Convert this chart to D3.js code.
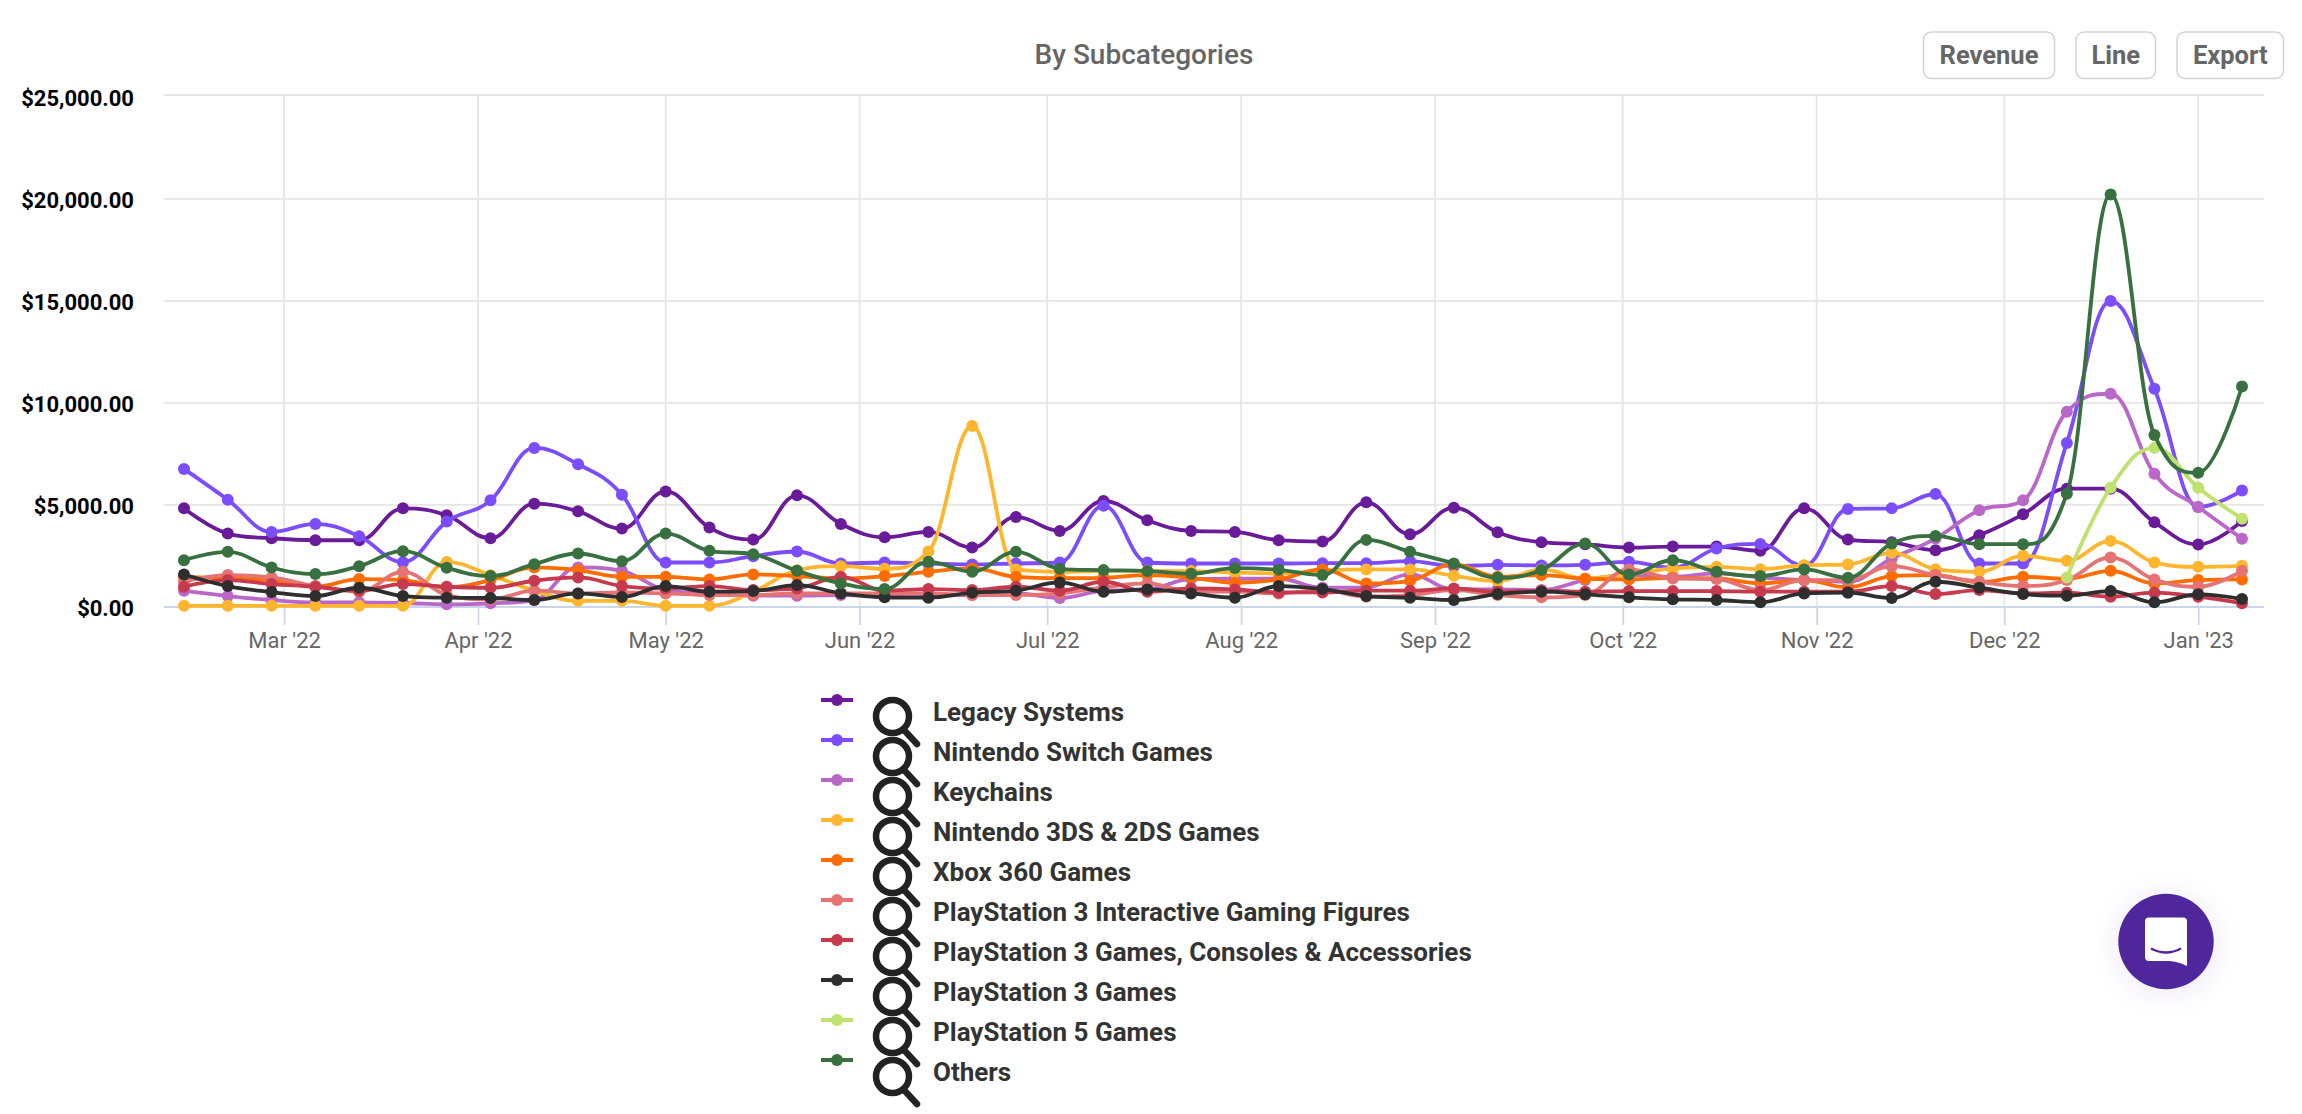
<!DOCTYPE html>
<html>
  <head>
    <script src="https://cdnjs.cloudflare.com/ajax/libs/d3/7.8.5/d3.min.js"></script>
    <style type="text/css">
      body {
        margin: 0;
        padding: 0;
        background: #fff;
        overflow: hidden;
      }
      text {
        font-family: Roboto, sans-serif;
      }
      .y-axis text {
        font-size: 22px;
        font-weight: 700;
        fill: #000;
      }
      .x-axis text {
        font-size: 22px;
        fill: #666;
      }
      .legend-label {
        font-size: 26px;
        font-weight: 700;
        fill: #333;
      }
      .title {
        font-size: 28px;
        font-weight: 500;
        fill: #666;
      }
      .button-label {
        font-size: 25.5px;
        font-weight: 700;
        fill: #666;
      }
    </style>
  </head>
  <body>
    <svg id="chart" width="2302" height="1114"></svg>
    <script type="text/javascript">
    const yTicks = [0, 5000, 10000, 15000, 20000, 25000];
    const buttonLabels = ['Revenue', 'Line', 'Export'];

    const legacySystems = [4835, 3598, 3370, 3272, 3272, 4835, 4493, 3370, 5063, 4689, 3842, 5665, 3891, 3305, 5470, 4070, 3419, 3679, 2914, 4412, 3728, 5193, 4249, 3728, 3679, 3272, 3207, 5128, 3565, 4868, 3663, 3175, 3077, 2914, 2963, 2963, 2751, 4835, 3305, 3175, 2784, 3516, 4542, 5796, 5796, 4151, 3061, 4216];
    const switchGames = [6767, 5258, 3679, 4070, 3468, 2198, 4184, 5226, 7795, 6993, 5503, 2181, 2181, 2490, 2719, 2132, 2181, 2132, 2083, 2132, 2181, 4965, 2181, 2132, 2132, 2132, 2149, 2149, 2246, 2002, 2067, 2035, 2067, 2214, 1921, 2865, 3093, 2019, 4803, 4835, 5535, 2132, 2132, 8040, 14990, 10690, 4900, 5713];
    const keychains = [798, 537, 342, 228, 228, 195, 130, 179, 342, 1937, 1775, 830, 670, 553, 553, 586, 553, 586, 586, 667, 440, 800, 860, 1367, 1384, 1384, 944, 960, 1595, 860, 860, 830, 1319, 1563, 1481, 1644, 1449, 1319, 1237, 2377, 3354, 4738, 5226, 9570, 10450, 6528, 4900, 3350];
    const ds3Games = [60, 60, 60, 60, 60, 60, 2200, 1560, 800, 300, 300, 60, 60, 750, 1800, 2000, 1870, 2719, 8870, 1840, 1725, 1775, 1775, 1758, 1693, 1644, 1775, 1840, 1840, 1530, 1270, 1840, 1400, 1610, 1888, 1970, 1855, 2050, 2083, 2653, 1855, 1725, 2507, 2262, 3240, 2181, 1970, 2018];
    const xbox360Games = [1480, 1400, 1319, 993, 1367, 1319, 960, 1319, 1937, 1807, 1481, 1481, 1351, 1595, 1514, 1400, 1514, 1725, 1888, 1481, 1416, 1432, 1563, 1432, 1188, 1351, 1840, 1156, 1286, 2100, 1481, 1563, 1384, 1351, 1432, 1400, 1156, 1319, 960, 1514, 1563, 1204, 1481, 1384, 1774, 1156, 1319, 1351];
    const ps3Figures = [1237, 1563, 1449, 1026, 750, 1726, 586, 374, 798, 667, 716, 667, 586, 586, 667, 667, 667, 667, 586, 586, 667, 960, 1156, 750, 750, 667, 830, 505, 586, 830, 586, 472, 586, 1840, 1400, 1367, 830, 1319, 1319, 2002, 1563, 1237, 1026, 1319, 2426, 1351, 993, 1775];
    const ps3Consoles = [993, 1319, 1123, 993, 798, 1123, 993, 944, 1286, 1449, 1026, 912, 1026, 830, 912, 1481, 798, 879, 830, 993, 798, 1237, 749, 912, 863, 716, 716, 798, 798, 912, 749, 798, 749, 781, 781, 781, 749, 749, 749, 1026, 635, 830, 667, 700, 505, 700, 505, 179];
    const ps3Games = [1595, 1026, 733, 537, 944, 537, 456, 440, 342, 667, 488, 1026, 749, 781, 1074, 667, 472, 456, 700, 798, 1205, 749, 863, 667, 456, 1026, 879, 537, 456, 342, 635, 749, 619, 472, 374, 342, 228, 667, 700, 440, 1237, 944, 635, 553, 781, 228, 619, 391];
    const ps5Games = [null, null, null, null, null, null, null, null, null, null, null, null, null, null, null, null, null, null, null, null, null, null, null, null, null, null, null, null, null, null, null, null, null, null, null, null, null, null, null, null, null, null, null, 1449, 5843, 7797, 5843, 4330];
    const others = [2295, 2702, 1937, 1612, 2002, 2735, 1921, 1514, 2100, 2621, 2247, 3598, 2751, 2588, 1775, 1156, 879, 2214, 1726, 2702, 1872, 1807, 1758, 1628, 1905, 1823, 1563, 3289, 2702, 2133, 1433, 1807, 3110, 1595, 2295, 1726, 1514, 1840, 1433, 3110, 3484, 3077, 3077, 5550, 20216, 8432, 6576, 10808];

    const seriesNames = ['Legacy Systems', 'Nintendo Switch Games', 'Keychains', 'Nintendo 3DS & 2DS Games', 'Xbox 360 Games', 'PlayStation 3 Interactive Gaming Figures', 'PlayStation 3 Games, Consoles & Accessories', 'PlayStation 3 Games', 'PlayStation 5 Games', 'Others'];
    const seriesValues = [legacySystems, switchGames, keychains, ds3Games, xbox360Games, ps3Figures, ps3Consoles, ps3Games, ps5Games, others];
    const seriesColors = ['#6a1b9a', '#7c4dff', '#ba68c8', '#ffb62e', '#ff6d00', '#e57373', '#c73a4e', '#2e2e2e', '#bfe26f', '#38703f'];

    // one point a week, from the first to the last sunday on the chart
    const weeks = d3.utcWeek.range(new Date(Date.UTC(2022, 1, 13)), new Date(Date.UTC(2023, 0, 9)));
    const months = d3.utcMonth.range(new Date(Date.UTC(2022, 2, 1)), new Date(Date.UTC(2023, 0, 2)));

    const plot = {left: 163.5, right: 2264, top: 95, bottom: 607};

    const x = d3.scaleUtc().domain([weeks[0], weeks[weeks.length - 1]]).range([184, 2242]);
    const y = d3.scaleLinear().domain([0, 25000]).range([plot.bottom, 96.8]);

    // same smoothing as the spline the original chart uses, flat at local extremes
    function smoothSpline(context) {
      let pts;
      return {
        lineStart() { pts = []; },
        lineEnd() {
          const conts = pts.map((p, i) => splineControls(pts[i - 1], p, pts[i + 1]));
          pts.forEach((p, i) => {
            if (i === 0) {
              context.moveTo(p[0], p[1]);
            } else {
              const a = conts[i - 1].right, b = conts[i].left;
              context.bezierCurveTo(a[0], a[1], b[0], b[1], p[0], p[1]);
            }
          });
        },
        point(px, py) { pts.push([px, py]); },
        areaStart() {},
        areaEnd() {}
      };
    }

    function splineControls(last, p, next) {
      if (!last || !next) return {left: p, right: p};
      const s = 1.5, d = s + 1;
      const lx = (s * p[0] + last[0]) / d, rx = (s * p[0] + next[0]) / d;
      let ly = (s * p[1] + last[1]) / d, ry = (s * p[1] + next[1]) / d;
      // both control points on a straight line through the point
      const correction = (ry - ly) * (rx - p[0]) / (rx - lx) + p[1] - ry;
      ly += correction;
      ry += correction;
      if (ly > p[1] && ly > last[1]) {
        ly = Math.max(p[1], last[1]);
        ry = 2 * p[1] - ly;
      } else if (ly < p[1] && ly < last[1]) {
        ly = Math.min(p[1], last[1]);
        ry = 2 * p[1] - ly;
      }
      if (ry > p[1] && ry > next[1]) {
        ry = Math.max(p[1], next[1]);
        ly = 2 * p[1] - ry;
      } else if (ry < p[1] && ry < next[1]) {
        ry = Math.min(p[1], next[1]);
        ly = 2 * p[1] - ry;
      }
      return {left: [lx, ly], right: [rx, ry]};
    }

    const svg = d3.select('#chart');

    svg.append('text')
      .attr('class', 'title')
      .attr('x', 1144)
      .attr('y', 64)
      .attr('text-anchor', 'middle')
      .text('By Subcategories');

    /* buttons */
    const buttonBoxes = [[1923.5, 131], [2076, 79.5], [2177, 106.5]];
    buttonLabels.forEach((label, i) => {
      const g = svg.append('g').attr('transform', `translate(${buttonBoxes[i][0]},32)`);
      g.append('rect')
        .attr('width', buttonBoxes[i][1])
        .attr('height', 46.5)
        .attr('rx', 8)
        .attr('fill', '#fff')
        .attr('stroke', '#d4d4d4')
        .attr('stroke-width', 1.5);
      g.append('text')
        .attr('class', 'button-label')
        .attr('x', buttonBoxes[i][1] / 2)
        .attr('y', 31.5)
        .attr('text-anchor', 'middle')
        .text(label);
    });

    /* grid, the top line sits a little above its place on the scale */
    svg.append('g').selectAll('line')
      .data(yTicks.slice(1))
      .join('line')
      .attr('x1', plot.left)
      .attr('x2', plot.right)
      .attr('y1', d => d === 25000 ? plot.top : y(d))
      .attr('y2', d => d === 25000 ? plot.top : y(d))
      .attr('stroke', '#e6e6e6')
      .attr('stroke-width', 1.8);
    svg.append('g').selectAll('line')
      .data(months)
      .join('line')
      .attr('x1', d => x(d))
      .attr('x2', d => x(d))
      .attr('y1', plot.top)
      .attr('y2', plot.bottom)
      .attr('stroke', '#e6e6e6')
      .attr('stroke-width', 1.8);

    /* axes */
    const yAxis = svg.append('g')
      .attr('class', 'y-axis')
      .attr('transform', `translate(${plot.left},0)`)
      .call(d3.axisLeft(y).tickValues(yTicks).tickSize(0).tickPadding(29.5).tickFormat(d3.format('$,.2f')));
    yAxis.select('.domain').remove();
    yAxis.selectAll('text').attr('dy', '0.4em');

    const xAxis = svg.append('g')
      .attr('class', 'x-axis')
      .attr('transform', `translate(0,${plot.bottom})`)
      .call(d3.axisBottom(x).tickValues(months).tickSize(18).tickPadding(7).tickFormat(d3.utcFormat("%b '%y")));
    xAxis.select('.domain').remove();
    xAxis.selectAll('.tick line').attr('stroke', '#ccd6eb').attr('stroke-width', 1.8);
    svg.append('line')
      .attr('x1', plot.left)
      .attr('x2', plot.right)
      .attr('y1', plot.bottom)
      .attr('y2', plot.bottom)
      .attr('stroke', '#ccd6eb')
      .attr('stroke-width', 1.8);

    /* series */
    const line = d3.line()
      .defined(d => d.value !== null)
      .x(d => x(d.date))
      .y(d => y(d.value))
      .curve(smoothSpline);

    seriesValues.forEach((values, i) => {
      const points = values.map((value, j) => ({date: weeks[j], value: value}));
      const g = svg.append('g').attr('class', 'series');
      g.append('path')
        .datum(points)
        .attr('d', line)
        .attr('fill', 'none')
        .attr('stroke', seriesColors[i])
        .attr('stroke-width', 3.8);
      g.selectAll('circle')
        .data(points.filter(d => d.value !== null))
        .join('circle')
        .attr('cx', d => x(d.date))
        .attr('cy', d => y(d.value))
        .attr('r', 6)
        .attr('fill', seriesColors[i]);
    });

    /* legend */
    const legend = svg.append('g')
      .selectAll('g')
      .data(seriesNames)
      .join('g')
      .attr('transform', (d, i) => `translate(0,${40 * i})`);
    legend.append('line')
      .attr('x1', 821)
      .attr('x2', 853)
      .attr('y1', 700)
      .attr('y2', 700)
      .attr('stroke', (d, i) => seriesColors[i])
      .attr('stroke-width', 4);
    legend.append('circle')
      .attr('cx', 837)
      .attr('cy', 700)
      .attr('r', 6)
      .attr('fill', (d, i) => seriesColors[i]);
    legend.append('circle')
      .attr('cx', 892.5)
      .attr('cy', 716.5)
      .attr('r', 16.5)
      .attr('fill', 'none')
      .attr('stroke', '#222')
      .attr('stroke-width', 6.5);
    legend.append('line')
      .attr('x1', 904)
      .attr('y1', 730)
      .attr('x2', 917)
      .attr('y2', 744)
      .attr('stroke', '#222')
      .attr('stroke-width', 6.5)
      .attr('stroke-linecap', 'round');
    legend.append('text')
      .attr('class', 'legend-label')
      .attr('x', 933)
      .attr('y', 721)
      .text(d => d);

    /* chat button */
    const defs = svg.append('defs');
    const shadow = defs.append('filter')
      .attr('id', 'chat-shadow')
      .attr('x', '-60%')
      .attr('y', '-60%')
      .attr('width', '220%')
      .attr('height', '220%');
    shadow.append('feDropShadow')
      .attr('dx', 0)
      .attr('dy', 3)
      .attr('stdDeviation', 14)
      .attr('flood-color', '#4f259c')
      .attr('flood-opacity', 0.1);
    const chat = svg.append('g').attr('transform', 'translate(2166,941.5)');
    chat.append('circle')
      .attr('r', 47.7)
      .attr('fill', '#4f259c')
      .attr('filter', 'url(#chat-shadow)');
    chat.append('path')
      .attr('d', 'M-21,-24 H17 Q21,-24 21,-20 V24.5 Q11,19.5 1,19.5 H-17 Q-21,19.5 -21,15.5 V-20 Q-21,-24 -17,-24 Z')
      .attr('fill', '#fff');
    chat.append('path')
      .attr('d', 'M-15,7 Q0,15 15,7')
      .attr('fill', 'none')
      .attr('stroke', '#4f259c')
      .attr('stroke-width', 2.5);
    </script>
  </body>
</html>
